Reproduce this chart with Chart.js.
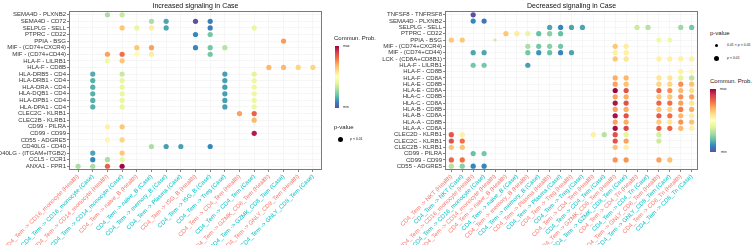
<!DOCTYPE html>
<html>
<head>
<meta charset="utf-8">
<script src="https://cdn.jsdelivr.net/npm/chart.js@4.4.1/dist/chart.umd.min.js"></script>
<style>
  body { margin: 0; background: #fff; font-family: "Liberation Sans", Arial, sans-serif; }
  #stage { position: relative; width: 756px; height: 245px; overflow: hidden; }
  canvas { position: absolute; top: 0; }
  .lg { position: absolute; color: #222; white-space: nowrap; line-height: 1; z-index: 2; }
  .bar { position: absolute; z-index: 2;
    background: linear-gradient(to bottom, #9E0142, #D53E4F, #F46D43, #FDAE61, #FEE08B, #FFFFBF, #E6F598, #ABDDA4, #66C2A5, #3288BD, #5E4FA2); }
  .dot { position: absolute; background: #000; border-radius: 50%; z-index: 2; }
</style>
</head>
<body>
<div id="stage">
  <canvas id="upChart" width="326" height="245" style="left:0"></canvas>
  <canvas id="downChart" width="372" height="245" style="left:330px"></canvas>

  <!-- legend, increased panel -->
  <div class="lg" style="left:334px; top:35px; font-size:6px;">Commun. Prob.</div>
  <div class="bar" style="left:335px; top:46px; width:4px; height:62px;"></div>
  <div class="lg" style="left:343px; top:45px; font-size:3.5px;">max</div>
  <div class="lg" style="left:343px; top:106px; font-size:3.5px;">min</div>
  <div class="lg" style="left:334px; top:124px; font-size:6px;">p-value</div>
  <div class="dot" style="left:338px; top:137px; width:5px; height:5px;"></div>
  <div class="lg" style="left:350px; top:138px; font-size:3.5px;">p &lt; 0.01</div>

  <!-- legend, decreased panel -->
  <div class="lg" style="left:710px; top:30px; font-size:6px;">p-value</div>
  <div class="dot" style="left:714.5px; top:43.8px; width:3px; height:3px;"></div>
  <div class="lg" style="left:727px; top:43.5px; font-size:3.5px;">0.01 &lt; p &lt; 0.05</div>
  <div class="dot" style="left:713.5px; top:55.5px; width:5px; height:5px;"></div>
  <div class="lg" style="left:727px; top:56.5px; font-size:3.5px;">p &lt; 0.01</div>
  <div class="lg" style="left:710px; top:78px; font-size:6px;">Commun. Prob.</div>
  <div class="bar" style="left:710px; top:89px; width:6px; height:63px;"></div>
  <div class="lg" style="left:720px; top:88px; font-size:3.5px;">max</div>
  <div class="lg" style="left:721px; top:150.5px; font-size:3.5px;">min</div>
</div>

<script>
// --- Increased signaling in Case ---
const upRows = [
  'SEMA4D - PLXNB2', 'SEMA4D - CD72', 'SELPLG - SELL', 'PTPRC - CD22', 'PPIA - BSG',
  'MIF - (CD74+CXCR4)', 'MIF - (CD74+CD44)', 'HLA-F - LILRB1', 'HLA-F - CD8B',
  'HLA-DRB5 - CD4', 'HLA-DRB1 - CD4', 'HLA-DRA - CD4', 'HLA-DQB1 - CD4', 'HLA-DPB1 - CD4',
  'HLA-DPA1 - CD4', 'CLEC2C - KLRB1', 'CLEC2B - KLRB1', 'CD99 - PILRA', 'CD99 - CD99',
  'CD55 - ADGRE5', 'CD40LG - CD40', 'CD40LG - (ITGAM+ITGB2)', 'CCL5 - CCR1', 'ANXA1 - FPR1'
];
const upCols = [
  'CD4_Tem -> CD16_monocyte (Health)', 'CD4_Tem -> CD16_monocyte (Case)',
  'CD4_Tem -> CD14_monocyte (Health)', 'CD4_Tem -> CD14_monocyte (Case)',
  'CD4_Tem -> naive_B (Health)', 'CD4_Tem -> naive_B (Case)',
  'CD4_Tem -> memory_B (Case)', 'CD4_Tem -> Plasma (Case)',
  'CD4_Tem -> ISG_B (Health)', 'CD4_Tem -> ISG_B (Case)', 'CD4_Tem -> Treg (Case)',
  'CD4_Tem -> CD4_Tem (Health)', 'CD4_Tem -> CD4_Tem (Case)',
  'CD4_Tem -> GZMK_CD8_Tem (Health)', 'CD4_Tem -> GZMK_CD8_Tem (Case)',
  'CD4_Tem -> GNLY_CD8_Tem (Health)', 'CD4_Tem -> GNLY_CD8_Tem (Case)'
];
// [pair, column index, scaled commun. prob. 0 = min .. 1 = max]
const upDots = [
  ['SEMA4D - PLXNB2', 2, 0.30], ['SEMA4D - PLXNB2', 3, 0.35],
  ['SEMA4D - CD72', 5, 0.30], ['SEMA4D - CD72', 6, 0.15], ['SEMA4D - CD72', 8, 0.00], ['SEMA4D - CD72', 9, 0.08],
  ['SELPLG - SELL', 3, 0.65], ['SELPLG - SELL', 4, 0.42], ['SELPLG - SELL', 5, 0.56], ['SELPLG - SELL', 6, 0.15],
  ['SELPLG - SELL', 9, 0.08], ['SELPLG - SELL', 12, 0.42],
  ['PTPRC - CD22', 8, 0.10], ['PTPRC - CD22', 9, 0.22],
  ['PPIA - BSG', 14, 0.73],
  ['MIF - (CD74+CXCR4)', 4, 0.65], ['MIF - (CD74+CXCR4)', 5, 0.72], ['MIF - (CD74+CXCR4)', 8, 0.10],
  ['MIF - (CD74+CXCR4)', 9, 0.22], ['MIF - (CD74+CXCR4)', 10, 0.32],
  ['MIF - (CD74+CD44)', 2, 0.72], ['MIF - (CD74+CD44)', 3, 0.80], ['MIF - (CD74+CD44)', 4, 0.52],
  ['MIF - (CD74+CD44)', 5, 0.56], ['MIF - (CD74+CD44)', 9, 0.22],
  ['HLA-F - LILRB1', 2, 0.44], ['HLA-F - LILRB1', 3, 0.65],
  ['HLA-F - CD8B', 13, 0.68], ['HLA-F - CD8B', 14, 0.68], ['HLA-F - CD8B', 15, 0.62], ['HLA-F - CD8B', 16, 0.62],
  ['HLA-DRB5 - CD4', 1, 0.16], ['HLA-DRB5 - CD4', 3, 0.35], ['HLA-DRB5 - CD4', 10, 0.14], ['HLA-DRB5 - CD4', 12, 0.40],
  ['HLA-DRB1 - CD4', 1, 0.17], ['HLA-DRB1 - CD4', 3, 0.42], ['HLA-DRB1 - CD4', 10, 0.14], ['HLA-DRB1 - CD4', 12, 0.43],
  ['HLA-DRA - CD4', 1, 0.17], ['HLA-DRA - CD4', 3, 0.42], ['HLA-DRA - CD4', 10, 0.14], ['HLA-DRA - CD4', 12, 0.43],
  ['HLA-DQB1 - CD4', 1, 0.17], ['HLA-DQB1 - CD4', 3, 0.42], ['HLA-DQB1 - CD4', 10, 0.14], ['HLA-DQB1 - CD4', 12, 0.43],
  ['HLA-DPB1 - CD4', 1, 0.17], ['HLA-DPB1 - CD4', 3, 0.42], ['HLA-DPB1 - CD4', 10, 0.14], ['HLA-DPB1 - CD4', 12, 0.43],
  ['HLA-DPA1 - CD4', 1, 0.17], ['HLA-DPA1 - CD4', 3, 0.42], ['HLA-DPA1 - CD4', 10, 0.14], ['HLA-DPA1 - CD4', 12, 0.43],
  ['CLEC2C - KLRB1', 11, 0.72], ['CLEC2C - KLRB1', 12, 0.83],
  ['CLEC2B - KLRB1', 12, 0.68],
  ['CD99 - PILRA', 2, 0.55], ['CD99 - PILRA', 3, 0.65],
  ['CD99 - CD99', 12, 0.96],
  ['CD55 - ADGRE5', 2, 0.53], ['CD55 - ADGRE5', 3, 0.62],
  ['CD40LG - CD40', 5, 0.30], ['CD40LG - CD40', 6, 0.14], ['CD40LG - CD40', 7, 0.14], ['CD40LG - CD40', 9, 0.10],
  ['CD40LG - (ITGAM+ITGB2)', 1, 0.15], ['CD40LG - (ITGAM+ITGB2)', 3, 0.65],
  ['CCL5 - CCR1', 1, 0.10], ['CCL5 - CCR1', 2, 0.30], ['CCL5 - CCR1', 3, 0.42],
  ['ANXA1 - FPR1', 0, 0.30], ['ANXA1 - FPR1', 1, 0.30], ['ANXA1 - FPR1', 2, 0.83], ['ANXA1 - FPR1', 3, 0.99]
];
const upSmall = [];

// --- Decreased signaling in Case ---
const downRows = [
  'TNFSF8 - TNFRSF8', 'SEMA4D - PLXNB2', 'SELPLG - SELL', 'PTPRC - CD22', 'PPIA - BSG',
  'MIF - (CD74+CXCR4)', 'MIF - (CD74+CD44)', 'LCK - (CD8A+CD8B1)', 'HLA-F - LILRB1',
  'HLA-F - CD8B', 'HLA-F - CD8A', 'HLA-E - CD8B', 'HLA-E - CD8A', 'HLA-C - CD8B', 'HLA-C - CD8A',
  'HLA-B - CD8B', 'HLA-B - CD8A', 'HLA-A - CD8B', 'HLA-A - CD8A', 'CLEC2D - KLRB1',
  'CLEC2C - KLRB1', 'CLEC2B - KLRB1', 'CD99 - PILRA', 'CD99 - CD99', 'CD55 - ADGRE5'
];
const downCols = [
  'CD4_Tem -> NKT (Health)', 'CD4_Tem -> NKT (Case)',
  'CD4_Tem -> CD16_monocyte (Health)', 'CD4_Tem -> CD16_monocyte (Case)',
  'CD4_Tem -> CD14_monocyte (Health)', 'CD4_Tem -> naive_B (Health)', 'CD4_Tem -> naive_B (Case)',
  'CD4_Tem -> memory_B (Health)', 'CD4_Tem -> memory_B (Case)',
  'CD4_Tem -> Plasma (Health)', 'CD4_Tem -> Plasma (Case)',
  'CD4_Tem -> Treg (Health)', 'CD4_Tem -> Treg (Case)',
  'CD4_Tem -> CD4_Tem (Health)', 'CD4_Tem -> CD4_Tem (Case)',
  'CD4_Tem -> GZMK_CD8_Tem (Health)', 'CD4_Tem -> GZMK_CD8_Tem (Case)',
  'CD4_Tem -> CD4_Tn (Health)', 'CD4_Tem -> CD4_Tn (Case)',
  'CD4_Tem -> GNLY_CD8_Tem (Health)', 'CD4_Tem -> GNLY_CD8_Tem (Case)',
  'CD4_Tem -> CD8_Tn (Health)', 'CD4_Tem -> CD8_Tn (Case)'
];
const downDots = [
  ['TNFSF8 - TNFRSF8', 2, 0.00],
  ['SEMA4D - PLXNB2', 2, 0.10], ['SEMA4D - PLXNB2', 3, 0.07],
  ['SELPLG - SELL', 9, 0.15], ['SELPLG - SELL', 10, 0.10], ['SELPLG - SELL', 11, 0.15], ['SELPLG - SELL', 12, 0.15],
  ['SELPLG - SELL', 17, 0.36], ['SELPLG - SELL', 18, 0.32], ['SELPLG - SELL', 21, 0.28], ['SELPLG - SELL', 22, 0.22],
  ['PTPRC - CD22', 5, 0.65], ['PTPRC - CD22', 6, 0.56], ['PTPRC - CD22', 7, 0.42], ['PTPRC - CD22', 8, 0.20],
  ['PTPRC - CD22', 9, 0.25], ['PTPRC - CD22', 10, 0.20],
  ['PPIA - BSG', 0, 0.65], ['PPIA - BSG', 1, 0.65], ['PPIA - BSG', 4, 0.36], ['PPIA - BSG', 19, 0.44], ['PPIA - BSG', 20, 0.44],
  ['MIF - (CD74+CXCR4)', 7, 0.30], ['MIF - (CD74+CXCR4)', 8, 0.22], ['MIF - (CD74+CXCR4)', 9, 0.25],
  ['MIF - (CD74+CXCR4)', 10, 0.22], ['MIF - (CD74+CXCR4)', 15, 0.65], ['MIF - (CD74+CXCR4)', 16, 0.56],
  ['MIF - (CD74+CD44)', 2, 0.15], ['MIF - (CD74+CD44)', 3, 0.15], ['MIF - (CD74+CD44)', 7, 0.22],
  ['MIF - (CD74+CD44)', 8, 0.12], ['MIF - (CD74+CD44)', 9, 0.20], ['MIF - (CD74+CD44)', 10, 0.10],
  ['MIF - (CD74+CD44)', 11, 0.15], ['MIF - (CD74+CD44)', 15, 0.55], ['MIF - (CD74+CD44)', 16, 0.55],
  ['LCK - (CD8A+CD8B1)', 15, 0.65], ['LCK - (CD8A+CD8B1)', 16, 0.58], ['LCK - (CD8A+CD8B1)', 19, 0.55],
  ['LCK - (CD8A+CD8B1)', 20, 0.55], ['LCK - (CD8A+CD8B1)', 21, 0.55], ['LCK - (CD8A+CD8B1)', 22, 0.55],
  ['HLA-F - LILRB1', 2, 0.22], ['HLA-F - LILRB1', 3, 0.22], ['HLA-F - LILRB1', 7, 0.14],
  ['HLA-F - CD8B', 21, 0.55], ['HLA-F - CD8B', 22, 0.52],
  ['HLA-F - CD8A', 15, 0.70], ['HLA-F - CD8A', 16, 0.68], ['HLA-F - CD8A', 19, 0.58],
  ['HLA-F - CD8A', 20, 0.58], ['HLA-F - CD8A', 21, 0.40], ['HLA-F - CD8A', 22, 0.33],
  ['HLA-E - CD8B', 15, 0.72], ['HLA-E - CD8B', 16, 0.66], ['HLA-E - CD8B', 19, 0.62],
  ['HLA-E - CD8B', 20, 0.62], ['HLA-E - CD8B', 21, 0.75], ['HLA-E - CD8B', 22, 0.66],
  ['HLA-E - CD8A', 15, 1.00], ['HLA-E - CD8A', 16, 0.86], ['HLA-E - CD8A', 19, 0.82],
  ['HLA-E - CD8A', 20, 0.75], ['HLA-E - CD8A', 21, 0.68], ['HLA-E - CD8A', 22, 0.60],
  ['HLA-C - CD8B', 15, 0.72], ['HLA-C - CD8B', 16, 0.70], ['HLA-C - CD8B', 19, 0.65],
  ['HLA-C - CD8B', 20, 0.65], ['HLA-C - CD8B', 21, 0.75], ['HLA-C - CD8B', 22, 0.72],
  ['HLA-C - CD8A', 15, 0.97], ['HLA-C - CD8A', 16, 0.86], ['HLA-C - CD8A', 19, 0.82],
  ['HLA-C - CD8A', 20, 0.80], ['HLA-C - CD8A', 21, 0.72], ['HLA-C - CD8A', 22, 0.58],
  ['HLA-B - CD8B', 15, 0.72], ['HLA-B - CD8B', 16, 0.70], ['HLA-B - CD8B', 19, 0.65],
  ['HLA-B - CD8B', 20, 0.62], ['HLA-B - CD8B', 21, 0.78], ['HLA-B - CD8B', 22, 0.70],
  ['HLA-B - CD8A', 15, 0.98], ['HLA-B - CD8A', 16, 0.86], ['HLA-B - CD8A', 19, 0.84],
  ['HLA-B - CD8A', 20, 0.80], ['HLA-B - CD8A', 21, 0.68], ['HLA-B - CD8A', 22, 0.56],
  ['HLA-A - CD8B', 15, 0.72], ['HLA-A - CD8B', 16, 0.70], ['HLA-A - CD8B', 19, 0.64],
  ['HLA-A - CD8B', 20, 0.58], ['HLA-A - CD8B', 21, 0.74], ['HLA-A - CD8B', 22, 0.66],
  ['HLA-A - CD8A', 15, 0.98], ['HLA-A - CD8A', 16, 0.88], ['HLA-A - CD8A', 19, 0.84],
  ['HLA-A - CD8A', 20, 0.82], ['HLA-A - CD8A', 21, 0.68], ['HLA-A - CD8A', 22, 0.55],
  ['CLEC2D - KLRB1', 0, 0.85], ['CLEC2D - KLRB1', 1, 0.55], ['CLEC2D - KLRB1', 13, 0.55],
  ['CLEC2D - KLRB1', 14, 0.32], ['CLEC2D - KLRB1', 15, 0.86], ['CLEC2D - KLRB1', 16, 0.40], ['CLEC2D - KLRB1', 19, 0.37],
  ['CLEC2C - KLRB1', 0, 0.86], ['CLEC2C - KLRB1', 1, 0.80], ['CLEC2C - KLRB1', 15, 0.86],
  ['CLEC2C - KLRB1', 16, 0.72], ['CLEC2C - KLRB1', 19, 0.36],
  ['CLEC2B - KLRB1', 0, 0.66], ['CLEC2B - KLRB1', 1, 0.66], ['CLEC2B - KLRB1', 15, 0.66], ['CLEC2B - KLRB1', 16, 0.55],
  ['CD99 - PILRA', 2, 0.20], ['CD99 - PILRA', 3, 0.22],
  ['CD99 - CD99', 0, 0.82], ['CD99 - CD99', 1, 0.80], ['CD99 - CD99', 15, 0.74],
  ['CD99 - CD99', 16, 0.74], ['CD99 - CD99', 19, 0.72], ['CD99 - CD99', 20, 0.66],
  ['CD55 - ADGRE5', 0, 0.32], ['CD55 - ADGRE5', 1, 0.25], ['CD55 - ADGRE5', 2, 0.10], ['CD55 - ADGRE5', 3, 0.10]
];
// 0.01 < p < 0.05 (smaller dots)
const downSmall = [['PPIA - BSG', 4]];

// Spectral palette, min -> max
const spectral = ['#5E4FA2', '#3288BD', '#66C2A5', '#ABDDA4', '#E6F598', '#FFFFBF',
                  '#FEE08B', '#FDAE61', '#F46D43', '#D53E4F', '#9E0142'];

function probColor(v) {
    const t = Math.max(0, Math.min(1, v)) * 10;
    const i = Math.min(9, Math.floor(t));
    const f = t - i;
    const a = parseInt(spectral[i].slice(1), 16), b = parseInt(spectral[i + 1].slice(1), 16);
    const mix = s => Math.round(((a >> s) & 255) * (1 - f) + ((b >> s) & 255) * f);
    return `rgb(${mix(16)}, ${mix(8)}, ${mix(0)})`;
}

const HEALTH_COL = '#F8766D';
const CASE_COL = '#00BFC4';

// frame round the panel + title above it
const panelDeco = {
    id: 'panelDeco',
    afterDraw(chart, args, opts) {
        const { ctx, chartArea: a } = chart;
        ctx.save();
        ctx.strokeStyle = '#7a7a7a';
        ctx.lineWidth = 1;
        ctx.strokeRect(a.left + 0.5, a.top + 0.5, a.width - 1, a.height - 1);
        ctx.fillStyle = '#111';
        ctx.font = '7px "Liberation Sans", Arial, sans-serif';
        ctx.textAlign = 'center';
        ctx.textBaseline = 'bottom';
        ctx.fillText(opts.text, (a.left + a.right) / 2, a.top - 1.5);
        ctx.restore();
    }
};

function makePanel(canvasId, rows, cols, dots, small, title, yWidth, xPad, yPad) {
    const isSmall = (r, c) => small.some(s => s[0] === r && s[1] === c);
    const points = dots.map(d => ({ x: d[1], y: rows.indexOf(d[0]), v: d[2], small: isSmall(d[0], d[1]) }));

    return new Chart(document.getElementById(canvasId), {
        type: 'scatter',
        data: {
            datasets: [{
                data: points,
                pointRadius: c => (c.raw && c.raw.small ? 1.6 : 2.6),
                pointBackgroundColor: c => probColor(c.raw ? c.raw.v : 0),
                pointBorderWidth: 0,
                pointHoverRadius: 3
            }]
        },
        options: {
            responsive: false,
            animation: false,
            layout: { padding: { top: 11, right: 4, left: 0, bottom: 0 } },
            plugins: {
                legend: { display: false },
                tooltip: { enabled: false },
                panelDeco: { text: title }
            },
            scales: {
                x: {
                    type: 'linear',
                    min: -xPad,
                    max: cols.length - 1 + xPad,
                    afterBuildTicks: axis => { axis.ticks = cols.map((_, i) => ({ value: i })); },
                    afterFit: axis => { axis.height = 75; },
                    grid: { color: '#ececec', lineWidth: 0.5, tickLength: 2, tickColor: '#333', tickWidth: 0.6 },
                    border: { display: false },
                    ticks: {
                        autoSkip: false,
                        minRotation: 45,
                        maxRotation: 45,
                        padding: 1,
                        font: { size: 6 },
                        color: c => (cols[c.tick ? c.tick.value : c.index] || '').includes('(Health)') ? HEALTH_COL : CASE_COL,
                        callback: v => cols[v]
                    }
                },
                y: {
                    type: 'linear',
                    reverse: true,
                    min: -yPad,
                    max: rows.length - 1 + yPad,
                    afterBuildTicks: axis => { axis.ticks = rows.map((_, i) => ({ value: i })); },
                    afterFit: axis => { axis.width = yWidth; },
                    grid: { color: '#ececec', lineWidth: 0.5, tickLength: 2, tickColor: '#333', tickWidth: 0.6 },
                    border: { display: false },
                    ticks: {
                        autoSkip: false,
                        padding: 1,
                        font: { size: 6 },
                        color: '#333',
                        callback: v => rows[v]
                    }
                }
            }
        },
        plugins: [panelDeco]
    });
}

Chart.defaults.font.family = '"Liberation Sans", Arial, sans-serif';

makePanel('upChart', upRows, upCols, upDots, upSmall, 'Increased signaling in Case', 69, 0.62, 0.57);
makePanel('downChart', downRows, downCols, downDots, downSmall, 'Decreased signaling in Case', 115, 0.58, 0.6);
</script>
</body>
</html>
